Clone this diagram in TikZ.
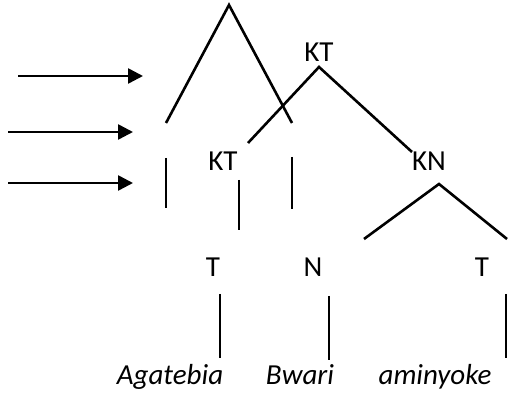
\documentclass[tikz,border=0pt]{standalone}
\usepackage{fontspec}
\setmainfont{Carlito}
\usetikzlibrary{arrows.meta}
\tikzstyle{arrow} = [line width=1.3pt,-{Triangle[length=7.5pt,width=7.5pt]}]
\tikzstyle{branch} = [line width=1.3pt]

\begin{document}
\begin{tikzpicture}[x=0.5pt,y=-0.5pt,cat/.style={inner sep=0pt, anchor=base, font=\fontsize{14.5}{17}\selectfont}]
    \useasboundingbox (0,0) rectangle (508,394);
    % labels
    \node[cat] (ktTop) at (319,62) {KT};
    \node[cat] (ktLeft) at (223,171) {KT};
    \node[cat] (kn) at (429,171) {KN};
    \node[cat] (tLeft) at (213,277) {T};
    \node[cat] (nMid) at (313,277) {N};
    \node[cat] (tRight) at (482,277) {T};
    \node[cat] (wordA) at (170,385) {\itshape Agatebia};
    \node[cat] (wordB) at (300,385) {\itshape Bwari};
    \node[cat] (wordC) at (435,385) {\itshape aminyoke};
    % end points
    \coordinate (apex) at (229,5);
    \coordinate (legL) at (166,123);
    \coordinate (legR) at (292,123);
    \coordinate (ktApex) at (319,67);
    \coordinate (ktArmL) at (248,143);
    \coordinate (ktArmR) at (412,152);
    \coordinate (knApex) at (439,184);
    \coordinate (knArmL) at (364,239);
    \coordinate (knArmR) at (507,239);
    \coordinate (a1s) at (18,76);  \coordinate (a1e) at (143,76);
    \coordinate (a2s) at (8,132);  \coordinate (a2e) at (133,132);
    \coordinate (a3s) at (8,183);  \coordinate (a3e) at (133,183);
    \coordinate (v1s) at (166,158); \coordinate (v1e) at (166,208);
    \coordinate (v2s) at (239,180); \coordinate (v2e) at (239,230);
    \coordinate (v3s) at (292,157); \coordinate (v3e) at (292,209);
    \coordinate (v4s) at (220,294); \coordinate (v4e) at (220,358);
    \coordinate (v5s) at (329,296); \coordinate (v5e) at (329,360);
    \coordinate (v6s) at (506,294); \coordinate (v6e) at (506,358);
    % arrows
    \draw[arrow] (a1s) -- (a1e);
    \draw[arrow] (a2s) -- (a2e);
    \draw[arrow] (a3s) -- (a3e);
    % branches
    \draw[branch] (legL) -- (apex) -- (legR);
    \draw[branch] (ktArmL) -- (ktApex) -- (ktArmR);
    \draw[branch] (knArmL) -- (knApex) -- (knArmR);
    \draw[branch] (v1s) -- (v1e);
    \draw[branch] (v2s) -- (v2e);
    \draw[branch] (v3s) -- (v3e);
    \draw[branch] (v4s) -- (v4e);
    \draw[branch] (v5s) -- (v5e);
    \draw[branch] (v6s) -- (v6e);
\end{tikzpicture}
\end{document}
